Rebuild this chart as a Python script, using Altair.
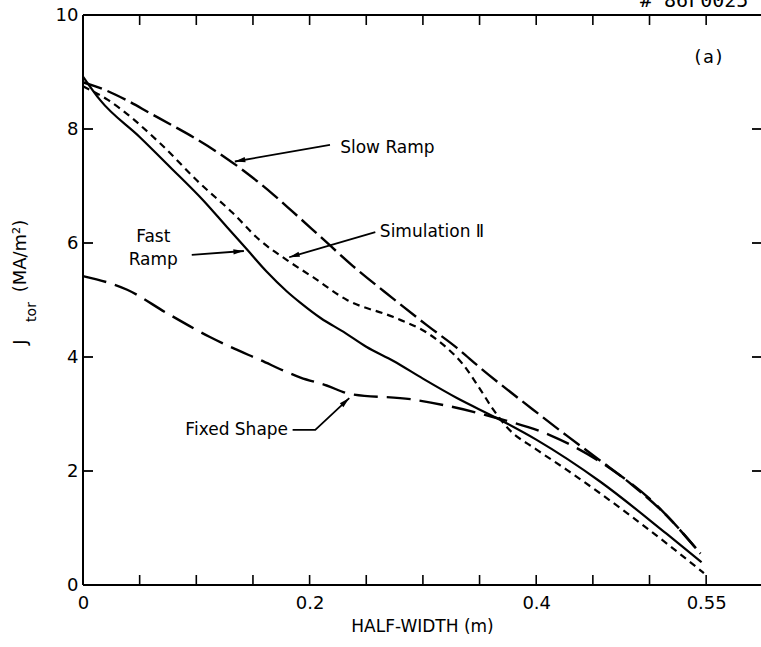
import math
import altair as alt
import pandas as pd

# ---------------- data ----------------
fast_x = [0.0, 0.015, 0.05, 0.077, 0.106, 0.127, 0.145, 0.162, 0.18, 0.192, 0.21, 0.23, 0.25, 0.274, 0.30, 0.33, 0.365, 0.40, 0.456, 0.515, 0.546]
fast_y = [8.92, 8.51, 7.86, 7.33, 6.75, 6.28, 5.88, 5.50, 5.15, 4.95, 4.68, 4.44, 4.18, 3.93, 3.62, 3.28, 2.93, 2.55, 1.82, 0.90, 0.40]

slow_x = [0.0, 0.02, 0.039, 0.059, 0.08, 0.097, 0.127, 0.145, 0.168, 0.185, 0.209, 0.238, 0.274, 0.304, 0.33, 0.35, 0.397, 0.427, 0.456, 0.485, 0.515, 0.545]
slow_y = [8.82, 8.68, 8.50, 8.28, 8.05, 7.86, 7.48, 7.22, 6.85, 6.55, 6.12, 5.60, 5.02, 4.55, 4.16, 3.82, 3.08, 2.62, 2.19, 1.75, 1.22, 0.55]

sim_x = [0.0, 0.022, 0.068, 0.103, 0.132, 0.156, 0.18, 0.203, 0.233, 0.274, 0.304, 0.32, 0.335, 0.35, 0.362, 0.375, 0.40, 0.427, 0.485, 0.548]
sim_y = [8.75, 8.51, 7.75, 7.05, 6.53, 6.05, 5.70, 5.40, 5.00, 4.70, 4.42, 4.18, 3.88, 3.45, 3.08, 2.75, 2.38, 2.02, 1.19, 0.21]

fixed_x = [0.0, 0.039, 0.074, 0.112, 0.156, 0.192, 0.215, 0.236, 0.289, 0.32, 0.365, 0.412, 0.465, 0.503, 0.542]
fixed_y = [5.42, 5.18, 4.77, 4.35, 3.95, 3.64, 3.50, 3.35, 3.26, 3.15, 2.93, 2.63, 2.05, 1.46, 0.62]

x_tick_labels = [0, 0.2, 0.4, 0.55]
y_tick_labels = [0, 2, 4, 6, 8, 10]
x_minor_ticks = [0.05, 0.1, 0.15, 0.2, 0.25, 0.3, 0.35, 0.4, 0.45, 0.5, 0.55]
y_minor_ticks = [2, 4, 6, 8]

# annotation arrows (tail ... head), in data units
arrow_slow_x, arrow_slow_y = [0.218, 0.134], [7.72, 7.43]
arrow_sim_x, arrow_sim_y = [0.258, 0.182], [6.19, 5.75]
arrow_fast_x, arrow_fast_y = [0.096, 0.142], [5.79, 5.86]
arrow_fixed_x, arrow_fixed_y = [0.185, 0.205, 0.235], [2.72, 2.72, 3.28]

# annotation labels
left_text = ["Slow Ramp", "Simulation Ⅱ"]
left_text_x = [0.227, 0.262]
left_text_y = [7.67, 6.19]
center_text = ["Fast", "Ramp"]
center_text_x = [0.062, 0.062]
center_text_y = [6.11, 5.70]
right_text = ["Fixed Shape"]
right_text_x = [0.181]
right_text_y = [2.72]
panel_text = ["(a)"]
panel_text_x = [0.552]
panel_text_y = [9.25]

# ---------------- chart ----------------
W, H = 678, 570
XMAX = 0.5984
FONT = "DejaVu Sans"

xs = alt.Scale(domain=[0, XMAX], nice=False, zero=False)
ys = alt.Scale(domain=[0, 10], nice=False, zero=False)

xaxis = alt.Axis(values=x_tick_labels, labelExpr="format(datum.value, '.2~f')",
                 domain=False, ticks=False, grid=False,
                 labelFont=FONT, labelFontSize=18, labelColor="black", labelPadding=9,
                 labelFlush=False, title="HALF-WIDTH (m)", titleFont=FONT, titleFontSize=17,
                 titleFontWeight="normal", titleColor="black", titlePadding=6)
yaxis = alt.Axis(values=y_tick_labels, domain=False, ticks=False, grid=False,
                 labelFont=FONT, labelFontSize=18, labelColor="black", labelPadding=5,
                 title=None)


def X(field="x"):
    return alt.X(f"{field}:Q", scale=xs, axis=xaxis)


def Y(field="y"):
    return alt.Y(f"{field}:Q", scale=ys, axis=yaxis)


def curve(xv, yv, dash=None, sw=2.2):
    df = pd.DataFrame({"x": xv, "y": yv})
    kw = dict(color="black", strokeWidth=sw, interpolate="monotone")
    if dash:
        kw["strokeDash"] = dash
    return alt.Chart(df).mark_line(**kw).encode(x=X(), y=Y())


layers = [
    curve(fast_x, fast_y),
    curve(slow_x, slow_y, [20, 6], 2.4),
    curve(sim_x, sim_y, [7, 5]),
    curve(fixed_x, fixed_y, [24, 9], 2.4),
]

one = pd.DataFrame({"a": [0]})
# frame: left, top, bottom (right edge lies beyond the picture)
layers.append(alt.Chart(one).mark_rule(color="black", strokeWidth=2).encode(
    x=alt.value(0), y=alt.value(0), y2=alt.value(H)))
layers.append(alt.Chart(one).mark_rule(color="black", strokeWidth=2).encode(
    x=alt.value(0), x2=alt.value(W), y=alt.value(0)))
layers.append(alt.Chart(one).mark_rule(color="black", strokeWidth=2).encode(
    x=alt.value(0), x2=alt.value(W), y=alt.value(H)))

# inward ticks
xt = pd.DataFrame({"x": x_minor_ticks})
yt = pd.DataFrame({"y": y_minor_ticks})
layers.append(alt.Chart(xt).mark_rule(color="black", strokeWidth=1.6).encode(
    x=X(), y=alt.value(H), y2=alt.value(H - 10)))
layers.append(alt.Chart(xt).mark_rule(color="black", strokeWidth=1.6).encode(
    x=X(), y=alt.value(0), y2=alt.value(10)))
layers.append(alt.Chart(yt).mark_rule(color="black", strokeWidth=1.8).encode(
    y=Y(), x=alt.value(0), x2=alt.value(10)))
layers.append(alt.Chart(yt).mark_rule(color="black", strokeWidth=1.8).encode(
    y=Y(), x=alt.value(W), x2=alt.value(W - 9)))

# arrows
sx = W / XMAX
sy = H / 10.0
arrows = [(arrow_slow_x, arrow_slow_y), (arrow_sim_x, arrow_sim_y),
          (arrow_fast_x, arrow_fast_y), (arrow_fixed_x, arrow_fixed_y)]
shaft_rows, head_rows = [], []
for i, (ax_, ay_) in enumerate(arrows):
    for k, (a, b) in enumerate(zip(ax_, ay_)):
        shaft_rows.append({"id": i, "k": k, "x": a, "y": b})
    dx = (ax_[-1] - ax_[-2]) * sx
    dy = -(ay_[-1] - ay_[-2]) * sy
    ang = math.degrees(math.atan2(dy, dx)) % 360
    head_rows.append({"x": ax_[-1], "y": ay_[-1], "ang": ang})
shaft = pd.DataFrame(shaft_rows)
heads = pd.DataFrame(head_rows)
layers.append(alt.Chart(shaft).mark_line(color="black", strokeWidth=1.8).encode(
    x=X(), y=Y(), detail="id:N", order="k:Q"))
layers.append(alt.Chart(heads).mark_point(
    shape="M0,0 L-2,-0.5 L-2,0.5 Z", filled=True, color="black", opacity=1, size=110,
    strokeWidth=0).encode(x=X(), y=Y(), angle=alt.Angle("ang:Q", scale=None)))


def texts(t, xv, yv, align, font=FONT, size=17):
    df = pd.DataFrame({"t": t, "x": xv, "y": yv})
    return alt.Chart(df).mark_text(align=align, baseline="middle", font=font,
                                   fontSize=size, color="black").encode(
        x=X(), y=Y(), text="t:N")


layers.append(texts(left_text, left_text_x, left_text_y, "left"))
layers.append(texts(center_text, center_text_x, center_text_y, "center"))
layers.append(texts(right_text, right_text_x, right_text_y, "right"))
layers.append(texts(panel_text, panel_text_x, panel_text_y, "center", "DejaVu Sans Mono", 18))

# y-axis title: J_tor (MA/m²)
layers.append(alt.Chart(one).mark_text(angle=270, align="center", baseline="middle", font=FONT,
                                       fontSize=18, color="black").encode(
    x=alt.value(-62), y=alt.value(327), text=alt.value("J")))
layers.append(alt.Chart(one).mark_text(angle=270, align="center", baseline="middle", font=FONT,
                                       fontSize=14, color="black").encode(
    x=alt.value(-51), y=alt.value(297), text=alt.value("tor")))
layers.append(alt.Chart(one).mark_text(angle=270, align="center", baseline="middle", font=FONT,
                                       fontSize=18, color="black").encode(
    x=alt.value(-62), y=alt.value(241), text=alt.value("(MA/m²)")))

# figure id, cut by the top edge as in the reference
layers.append(alt.Chart(one).mark_text(align="left", baseline="alphabetic", font="DejaVu Sans Mono",
                                       fontSize=20, color="black").encode(
    x=alt.value(557), y=alt.value(-8), text=alt.value("# 86F0025")))

chart = alt.layer(*layers).properties(
    width=W, height=H,
    autosize=alt.AutoSizeParams(type="none"),
    padding={"left": 83, "top": 15, "right": 0, "bottom": 62},
).configure_view(stroke=None).configure(background="white")

chart.save("out.html", embed_options={"renderer": "svg", "actions": False})
